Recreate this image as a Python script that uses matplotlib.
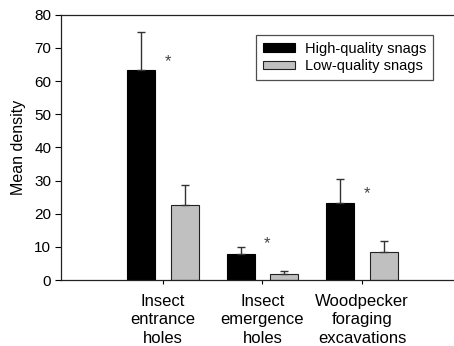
import matplotlib
matplotlib.use("Agg")
import matplotlib.pyplot as plt
import numpy as np

plt.rcParams['font.family'] = ['Liberation Sans', 'DejaVu Sans']

categories = ["Insect\nentrance\nholes", "Insect\nemergence\nholes", "Woodpecker\nforaging\nexcavations"]
high_mean = [63.2, 7.9, 23.2]
high_err = [11.5, 2.1, 7.2]
low_mean = [22.7, 1.8, 8.3]
low_err = [6.0, 0.9, 3.4]
star_y = [66, 11, 26]

x = np.arange(1, len(categories) + 1)
off = 0.22
w = 0.28

fig = plt.figure(figsize=(4.54, 3.46), dpi=100)
ax = fig.add_axes([61 / 454, 66 / 346, 1 - 61 / 454, 265.3 / 346])

err_kw = dict(ecolor='#333333', elinewidth=1, capsize=3, capthick=1)
ax.bar(x - off, high_mean, w, yerr=[np.zeros(3), high_err], color='black',
       edgecolor='black', linewidth=0.8, error_kw=err_kw, label='High-quality snags')
ax.bar(x + off, low_mean, w, yerr=[np.zeros(3), low_err], color='#c0c0c0',
       edgecolor='#222222', linewidth=0.8, error_kw=err_kw, label='Low-quality snags')

for xi, yi in zip(x, star_y):
    ax.text(xi + 0.05, yi, '*', ha='center', va='center', fontsize=12, color='#444444')

ax.set_xlim(-0.025, 3.925)
ax.set_ylim(0, 80)
ax.set_yticks(range(0, 81, 10))
ax.set_xticks(x)
ax.set_xticklabels(categories, fontsize=12, linespacing=1.3)
ax.tick_params(axis='y', labelsize=11, length=4, pad=3, direction='out')
ax.tick_params(axis='x', length=3, pad=7, direction='out')
ax.set_ylabel('Mean density', fontsize=11.5, labelpad=6)

ax.spines['right'].set_visible(False)
for s in ['left', 'bottom', 'top']:
    ax.spines[s].set_linewidth(0.9)
    ax.spines[s].set_color('#222222')

# legend box: right edge at 433 px, top at 35 px
leg = ax.legend(loc='upper right', bbox_to_anchor=((433 - 61) / 393, 1 - 20.3 / 265.3),
                fontsize=10.5, frameon=True, fancybox=False, edgecolor='#222222',
                handlelength=2.2, handleheight=0.5, handletextpad=0.7,
                borderpad=0.45, labelspacing=0.25, borderaxespad=0)
leg.get_frame().set_linewidth(0.9)

fig.savefig('out.png', dpi=100)
